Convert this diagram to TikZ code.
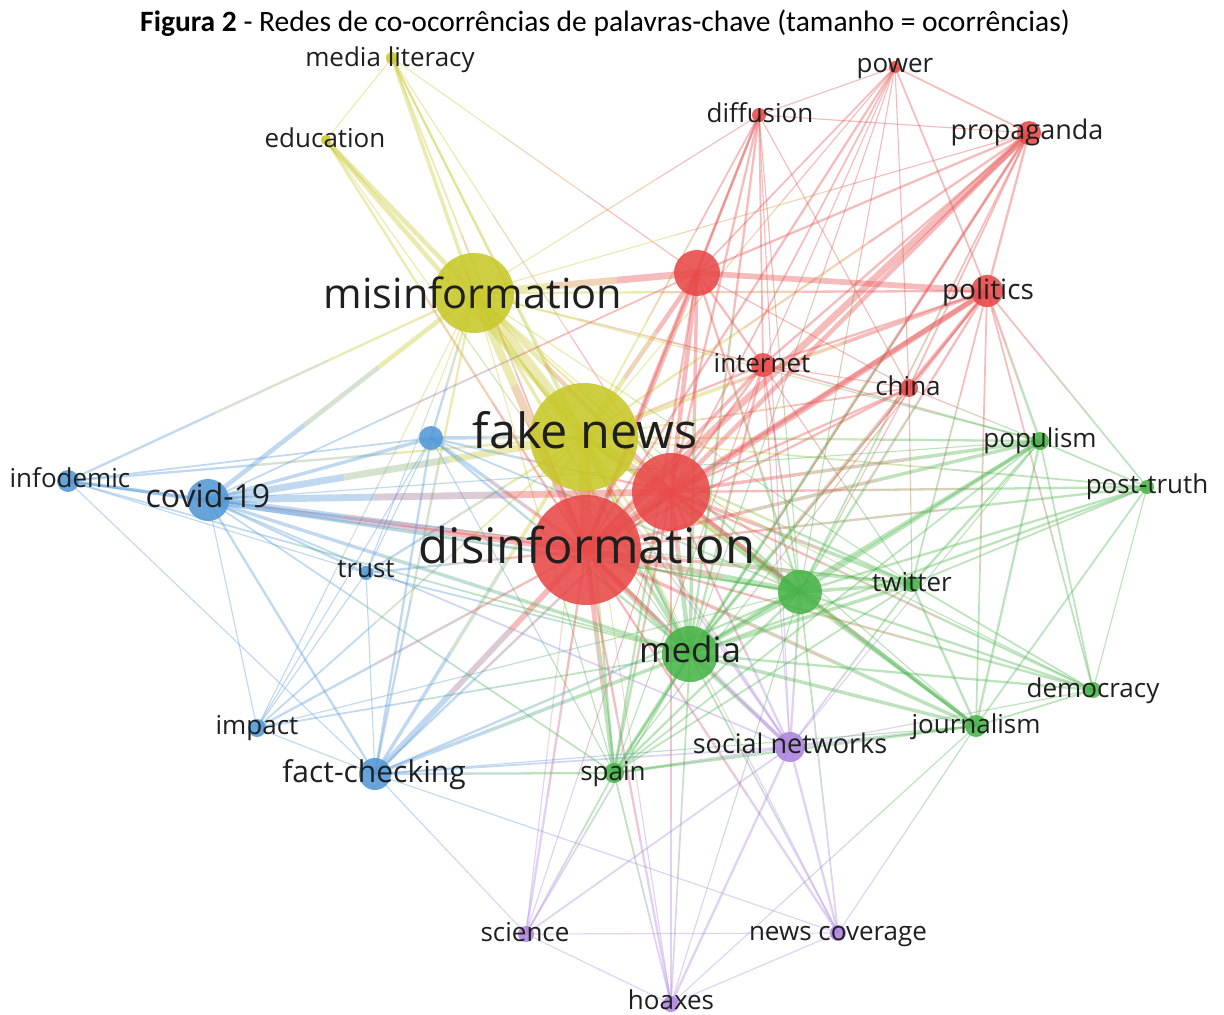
\documentclass[tikz,border=0pt]{standalone}
\usepackage{fontspec}
\setmainfont{Open Sans}
\newfontfamily\titlefont{Carlito}
\usetikzlibrary{calc}
\pgfdeclarelayer{edges}
\pgfdeclarelayer{bgl}
\pgfsetlayers{bgl,edges,main}
\definecolor{cy}{RGB}{200,200,40}
\definecolor{cr}{RGB}{232,72,72}
\definecolor{cbl}{RGB}{82,152,214}
\definecolor{cg}{RGB}{72,180,72}
\definecolor{cp}{RGB}{172,132,222}
\newcommand\fs[1]{\fontsize{#1}{#1}\selectfont}
\newcommand\setkc[2]{\expandafter\def\csname kc#1\endcsname{#2}}
\newcommand\E[3]{%
 \edef\ecA{\csname kc#1\endcsname}\edef\ecB{\csname kc#2\endcsname}%
 \draw[edge,line width=#3*1.15pt,draw=\ecA] (#1.center) -- ($(#1.center)!0.36!(#2.center)$);
 \draw[edge,line width=#3*1.15pt,draw=\ecA!50!\ecB] ($(#1.center)!0.36!(#2.center)$) -- ($(#1.center)!0.64!(#2.center)$);
 \draw[edge,line width=#3*1.15pt,draw=\ecB] ($(#1.center)!0.64!(#2.center)$) -- (#2.center);}
\setkc{ml}{cy}\setkc{ed}{cy}\setkc{mi}{cy}\setkc{fn}{cy}
\setkc{di}{cr}\setkc{pw}{cr}\setkc{pr}{cr}\setkc{ra}{cr}\setkc{po}{cr}\setkc{it}{cr}\setkc{ch}{cr}\setkc{rb}{cr}\setkc{ds}{cr}
\setkc{ba}{cbl}\setkc{id}{cbl}\setkc{cv}{cbl}\setkc{tr}{cbl}\setkc{im}{cbl}\setkc{fc}{cbl}
\setkc{pp}{cg}\setkc{pt}{cg}\setkc{ga}{cg}\setkc{tw}{cg}\setkc{me}{cg}\setkc{de}{cg}\setkc{jo}{cg}\setkc{sp}{cg}
\setkc{sn}{cp}\setkc{sc}{cp}\setkc{nc}{cp}\setkc{hx}{cp}
\begin{document}
\begin{tikzpicture}[x=1pt,y=-1pt,
  bub/.style={circle,inner sep=0pt,draw=none,fill opacity=0.88,minimum size=#1},
  lab/.style={anchor=base,inner sep=0pt,text=black!88},
  edge/.style={line cap=butt,draw opacity=0.36}]
\begin{pgfonlayer}{bgl}
\fill[white] (0,0) rectangle (1224,1015);
\end{pgfonlayer}
\useasboundingbox (0,0) rectangle (1224,1015);
% title
\node[anchor=base,inner sep=0pt,font=\titlefont\fs{29.5}] (title) at (605,31) {\textbf{Figura 2} - Redes de co-ocorrências de palavras-chave (tamanho = ocorrências)};
% bubbles
\node[bub=12pt,fill=cy] (ml) at (392,58) {};
\node[bub=10pt,fill=cy] (ed) at (326,140) {};
\node[bub=80pt,fill=cy] (mi) at (474,293) {};
\node[bub=108pt,fill=cy] (fn) at (584,437) {};
\node[bub=14pt,fill=cr] (di) at (759,115) {};
\node[bub=12pt,fill=cr] (pw) at (895,67) {};
\node[bub=24pt,fill=cr] (pr) at (1029,133) {};
\node[bub=46pt,fill=cr] (ra) at (697,273) {};
\node[bub=32pt,fill=cr] (po) at (987,291) {};
\node[bub=24pt,fill=cr] (it) at (763,365) {};
\node[bub=18pt,fill=cr] (ch) at (909,388) {};
\node[bub=78pt,fill=cr] (rb) at (671,492) {};
\node[bub=110pt,fill=cr] (ds) at (586,550) {};
\node[bub=24pt,fill=cbl] (ba) at (431,438) {};
\node[bub=22pt,fill=cbl] (id) at (68,481) {};
\node[bub=42pt,fill=cbl] (cv) at (208,500) {};
\node[bub=14pt,fill=cbl] (tr) at (366,573) {};
\node[bub=18pt,fill=cbl] (im) at (257,728) {};
\node[bub=32pt,fill=cbl] (fc) at (375,774) {};
\node[bub=18pt,fill=cg] (pp) at (1040,441) {};
\node[bub=14pt,fill=cg] (pt) at (1147,487) {};
\node[bub=44pt,fill=cg] (ga) at (800,592) {};
\node[bub=16pt,fill=cg] (tw) at (912,584) {};
\node[bub=56pt,fill=cg] (me) at (690,654) {};
\node[bub=16pt,fill=cg] (de) at (1093,690) {};
\node[bub=22pt,fill=cg] (jo) at (976,726) {};
\node[bub=20pt,fill=cg] (sp) at (614,773) {};
\node[bub=30pt,fill=cp] (sn) at (790,747) {};
\node[bub=16pt,fill=cp] (sc) at (526,934) {};
\node[bub=16pt,fill=cp] (nc) at (838,933) {};
\node[bub=16pt,fill=cp] (hx) at (671,1004) {};
% labels
\node[lab,font=\fs{26}] (mlL) at (390,66) {media literacy};
\node[lab,font=\fs{26}] (edL) at (325,147) {education};
\node[lab,font=\fs{41.5}] (miL) at (473,308) {misinformation};
\node[lab,font=\fs{48.5}] (fnL) at (585,448) {fake news};
\node[lab,font=\fs{26}] (diL) at (760,122) {diffusion};
\node[lab,font=\fs{26}] (pwL) at (895,72) {power};
\node[lab,font=\fs{27}] (prL) at (1027,139) {propaganda};
\node[lab,font=\fs{28}] (poL) at (988,299) {politics};
\node[lab,font=\fs{26}] (itL) at (762,372) {internet};
\node[lab,font=\fs{26}] (chL) at (908,395) {china};
\node[lab,font=\fs{49}] (dsL) at (587,563) {disinformation};
\node[lab,font=\fs{26}] (idL) at (70,487) {infodemic};
\node[lab,font=\fs{32}] (cvL) at (208,507) {covid-19};
\node[lab,font=\fs{26}] (trL) at (366,577) {trust};
\node[lab,font=\fs{26}] (imL) at (257,734) {impact};
\node[lab,font=\fs{30}] (fcL) at (374,782) {fact-checking};
\node[lab,font=\fs{26}] (ppL) at (1040,447) {populism};
\node[lab,font=\fs{26}] (ptL) at (1147,493) {post-truth};
\node[lab,font=\fs{26}] (twL) at (912,591) {twitter};
\node[lab,font=\fs{35}] (meL) at (690,662) {media};
\node[lab,font=\fs{26}] (deL) at (1093,697) {democracy};
\node[lab,font=\fs{26}] (joL) at (976,733) {journalism};
\node[lab,font=\fs{26}] (spL) at (613,780) {spain};
\node[lab,font=\fs{27}] (snL) at (790,753) {social networks};
\node[lab,font=\fs{26}] (scL) at (525,941) {science};
\node[lab,font=\fs{26}] (ncL) at (838,940) {news coverage};
\node[lab,font=\fs{26}] (hxL) at (671,1009) {hoaxes};
% edges
\begin{pgfonlayer}{edges}
\E{ml}{mi}{3}\E{ml}{fn}{2}\E{ml}{ds}{1.5}\E{ml}{ed}{1}\E{ml}{rb}{1}\E{ml}{me}{1}\E{ml}{ra}{1}
\E{ed}{mi}{4}\E{ed}{fn}{4}\E{ed}{ds}{2}\E{ed}{me}{1}
\E{mi}{fn}{10}\E{mi}{ds}{7}\E{mi}{ra}{6}\E{mi}{rb}{4}\E{mi}{cv}{4}\E{mi}{id}{2}\E{mi}{po}{2}\E{mi}{me}{3}\E{mi}{fc}{2}\E{mi}{ba}{2}\E{mi}{it}{1.5}\E{mi}{ga}{2}\E{mi}{tw}{1}\E{mi}{pp}{1}\E{mi}{sn}{1.5}\E{mi}{tr}{1}\E{mi}{im}{1}\E{mi}{sp}{1}\E{mi}{pr}{1}\E{mi}{jo}{1}\E{mi}{di}{1}
\E{fn}{ds}{10}\E{fn}{rb}{6}\E{fn}{ra}{4}\E{fn}{cv}{6}\E{fn}{me}{4}\E{fn}{ga}{4}\E{fn}{po}{3}\E{fn}{pr}{2}\E{fn}{it}{2}\E{fn}{ba}{3}\E{fn}{id}{2}\E{fn}{fc}{3}\E{fn}{tr}{2}\E{fn}{im}{1.5}\E{fn}{sp}{2}\E{fn}{sn}{2}\E{fn}{tw}{2}\E{fn}{pp}{2}\E{fn}{pt}{1.5}\E{fn}{jo}{2}\E{fn}{de}{1}\E{fn}{di}{1.5}\E{fn}{pw}{1}\E{fn}{ch}{1.5}\E{fn}{sc}{1}\E{fn}{hx}{1}\E{fn}{nc}{1}
\E{ds}{rb}{8}\E{ds}{ra}{5}\E{ds}{po}{5}\E{ds}{pr}{6}\E{ds}{it}{3}\E{ds}{ch}{2}\E{ds}{di}{2}\E{ds}{pw}{2}\E{ds}{cv}{7}\E{ds}{ba}{3}\E{ds}{id}{2}\E{ds}{tr}{2}\E{ds}{fc}{5}\E{ds}{im}{2}\E{ds}{me}{5}\E{ds}{ga}{5}\E{ds}{tw}{3}\E{ds}{pp}{3}\E{ds}{pt}{2}\E{ds}{sp}{4}\E{ds}{sn}{3}\E{ds}{jo}{3}\E{ds}{de}{2}\E{ds}{sc}{2}\E{ds}{hx}{2}\E{ds}{nc}{2}
\E{rb}{ra}{4}\E{rb}{po}{4}\E{rb}{pr}{4}\E{rb}{it}{2}\E{rb}{ch}{2}\E{rb}{di}{2}\E{rb}{pw}{1.5}\E{rb}{cv}{6}\E{rb}{ba}{2}\E{rb}{me}{4}\E{rb}{ga}{4}\E{rb}{tw}{3}\E{rb}{pp}{3}\E{rb}{pt}{2}\E{rb}{jo}{3}\E{rb}{de}{2}\E{rb}{sn}{2}\E{rb}{sp}{2}\E{rb}{fc}{2}\E{rb}{hx}{1.5}\E{rb}{sc}{1}
\E{ra}{po}{5}\E{ra}{pr}{2}\E{ra}{di}{2}\E{ra}{pw}{1.5}\E{ra}{it}{2}\E{ra}{me}{3}\E{ra}{ga}{2}\E{ra}{cv}{1.5}\E{ra}{sp}{2}\E{ra}{ch}{1}
\E{po}{pr}{2}\E{po}{pw}{1.5}\E{po}{it}{2}\E{po}{ch}{1.5}\E{po}{pp}{2}\E{po}{pt}{1.5}\E{po}{ga}{2}\E{po}{me}{3}\E{po}{tw}{1.5}\E{po}{jo}{1.5}\E{po}{de}{1.5}\E{po}{sp}{1}
\E{pr}{di}{1}\E{pr}{pw}{1.5}\E{pr}{it}{2}\E{pr}{me}{2.5}\E{pr}{ch}{1.5}\E{pr}{ga}{1.5}\E{pr}{sp}{1.5}
\E{pw}{di}{1}\E{pw}{it}{1}\E{pw}{me}{1}\E{pw}{ch}{1}\E{pw}{ga}{1}
\E{di}{it}{1.5}\E{di}{me}{2}\E{di}{ga}{1}\E{di}{sn}{1}\E{di}{ch}{1}
\E{it}{me}{2}\E{it}{ga}{1.5}\E{it}{ch}{1}\E{it}{pp}{1.5}\E{it}{tw}{1}\E{it}{sn}{1}\E{it}{sp}{1}
\E{ch}{pp}{1}\E{ch}{me}{1}\E{ch}{ga}{1}\E{ch}{tw}{1}
\E{ba}{cv}{3}\E{ba}{id}{1.5}\E{ba}{tr}{1}\E{ba}{fc}{2}\E{ba}{me}{2}\E{ba}{im}{1}\E{ba}{ga}{1.5}\E{ba}{sp}{1}
\E{cv}{id}{3}\E{cv}{tr}{2}\E{cv}{fc}{2}\E{cv}{im}{1}\E{cv}{me}{3}\E{cv}{ga}{2}\E{cv}{sp}{1.5}\E{cv}{sn}{1.5}\E{cv}{pp}{1}\E{cv}{tw}{1}
\E{id}{tr}{1}\E{id}{fc}{1}\E{id}{me}{1.5}\E{id}{ga}{1}
\E{tr}{fc}{1}\E{tr}{me}{1.5}\E{tr}{im}{1}
\E{im}{fc}{1}\E{im}{me}{1.5}\E{im}{ga}{1}
\E{fc}{me}{3}\E{fc}{ga}{2}\E{fc}{sp}{2}\E{fc}{sn}{1.5}\E{fc}{jo}{1}\E{fc}{sc}{1}\E{fc}{nc}{1}
\E{me}{ga}{4}\E{me}{tw}{3}\E{me}{pp}{3}\E{me}{pt}{2}\E{me}{jo}{3}\E{me}{de}{2}\E{me}{sn}{3}\E{me}{sp}{3}\E{me}{sc}{1.5}\E{me}{hx}{1.5}\E{me}{nc}{1.5}
\E{ga}{tw}{3}\E{ga}{pp}{3}\E{ga}{pt}{2}\E{ga}{jo}{3}\E{ga}{de}{2}\E{ga}{sn}{2}\E{ga}{sp}{2}\E{ga}{nc}{1.5}\E{ga}{hx}{1}
\E{tw}{pp}{2}\E{tw}{pt}{1.5}\E{tw}{jo}{2}\E{tw}{de}{1.5}\E{tw}{sn}{1.5}\E{tw}{sp}{1.5}
\E{pp}{pt}{1.5}\E{pp}{jo}{2}\E{pp}{de}{1.5}\E{pp}{sn}{1}\E{pp}{sp}{1.5}
\E{pt}{jo}{1.5}\E{pt}{de}{1}
\E{jo}{de}{1.5}\E{jo}{sn}{2}\E{jo}{sp}{2}\E{jo}{hx}{1}\E{jo}{nc}{1}
\E{de}{sn}{1}
\E{sn}{sp}{2}\E{sn}{sc}{1.5}\E{sn}{nc}{2}\E{sn}{hx}{2}
\E{sp}{sc}{1.5}\E{sp}{hx}{1.5}
\E{sc}{nc}{1}\E{sc}{hx}{1}\E{nc}{hx}{1}
\end{pgfonlayer}
\end{tikzpicture}
\end{document}
